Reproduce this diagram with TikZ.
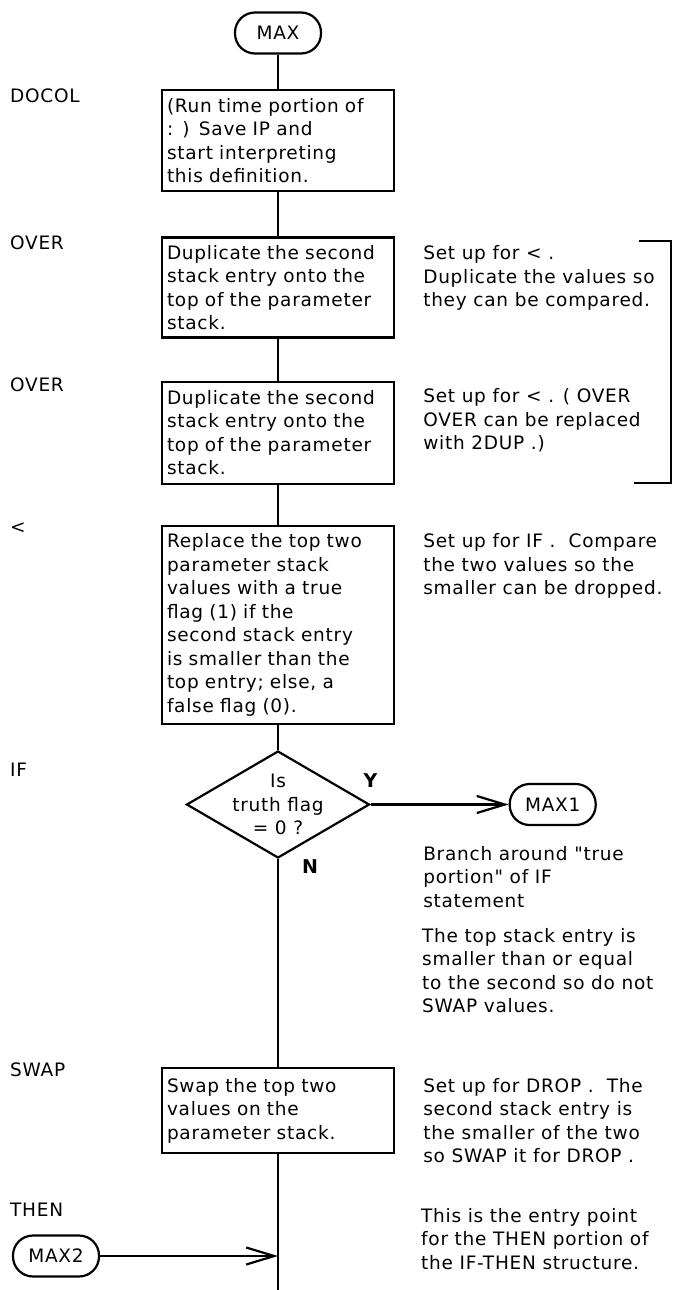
\documentclass[tikz,border=0pt]{standalone}
\usepackage{fontspec}
\setmainfont{DejaVu Sans}[LetterSpace=4, Ligatures=TeXOff]
\usepackage{tikz}
\usetikzlibrary{shapes.geometric,arrows.meta,positioning}

\begin{document}
\begin{tikzpicture}[
  x=1pt, y=-1pt,
  every node/.style={font=\fontsize{18.5}{23.5}\selectfont},
  term/.style={rectangle, draw, line width=2.2pt, rounded corners=20pt, minimum width=86pt, minimum height=41pt, inner sep=0pt},
  proc/.style={rectangle, draw, line width=2.2pt, text width=222pt, inner xsep=5pt, inner ysep=5pt, align=left},
  decision/.style={diamond, draw, line width=2.2pt, minimum width=183pt, minimum height=107pt, inner sep=0pt},
  note/.style={anchor=north west, inner sep=0pt, align=left},
  tag/.style={anchor=west, inner sep=0pt},
  yn/.style={inner sep=0pt, font=\fontsize{19}{23.5}\selectfont\bfseries},
  line/.style={line width=2.2pt},
  flow/.style={-{Straight Barb[length=28pt,width=17pt]}, line width=2.2pt}
]
\useasboundingbox (0,0) rectangle (678,1290);

\node[term] (max) at (278,33) {MAX};
\node[proc, below=34.5pt of max, minimum height=101pt] (docol) {(Run time portion of\\: ) Save IP and\\start interpreting\\this definition.};
\node[proc, below=44pt of docol, minimum height=100pt] (over1) {Duplicate the second\\stack entry onto the\\top of the parameter\\stack.};
\node[proc, below=42pt of over1, minimum height=102pt] (over2) {Duplicate the second\\stack entry onto the\\top of the parameter\\stack.};
\node[proc, below=40pt of over2, minimum height=198pt] (less) {Replace the top two\\parameter stack\\values with a true\\flag (1) if the\\second stack entry\\is smaller than the\\top entry; else, a\\false flag (0).};
\node[decision, below=25pt of less, label={[align=center]center:{Is\\truth flag\\= 0 ?}}] (test) {};
\node[term, right=138pt of test] (max1) {MAX1};
\node[proc, below=208pt of test, minimum height=85pt] (swap) {Swap the top two\\values on the\\parameter stack.};
\coordinate[below=145pt of swap] (lineend);
\node[term] (max2) at (56,1256) {MAX2};

\node[yn, above=17pt of test.east] (yes) {Y};
\node[yn, below right=0pt and 24pt of test.south] (no) {N};

\node[tag] (ldocol) at (10,96) {DOCOL};
\node[tag] (lover1) at (10,243) {OVER};
\node[tag] (lover2) at (10,385) {OVER};
\node[tag] (lless) at (10,528) {<};
\node[tag] (lif) at (10,770) {IF};
\node[tag] (lswap) at (10,1070) {SWAP};
\node[tag] (lthen) at (10,1210) {THEN};

\node[right=28pt of over1.north east, note, yshift=-9pt] (n1) {Set up for < .\\Duplicate the values so\\they can be compared.};
\node[right=28pt of over2.north east, note, yshift=-8pt] (n2) {Set up for < . ( OVER\\OVER can be replaced\\with 2DUP .)};
\node[right=28pt of less.north east, note, yshift=-9pt] (n3) {Set up for IF .~ Compare\\the two values so the\\smaller can be dropped.};
\node[note, yshift=-20pt] (n4) at (n3.west |- max1.south) {Branch around "true\\portion" of IF\\statement};
\node[note] (n5) at (422,928) {The top stack entry is\\smaller than or equal\\to the second so do not\\SWAP values.};
\node[right=28pt of swap.north east, note, yshift=-11pt] (n6) {Set up for DROP .~ The\\second stack entry is\\the smaller of the two\\so SWAP it for DROP .};
\node[note] (n7) at (421,1208) {This is the entry point\\for the THEN portion of\\the IF-THEN structure.};

\coordinate (brtop) at (671,241);
\coordinate (brbot) at (671,483);

\draw[line] (max) -- (docol);
\draw[line] (docol) -- (over1);
\draw[line] (over1) -- (over2);
\draw[line] (over2) -- (less);
\draw[line] (less) -- (test);
\draw[line] (test) -- (swap);
\draw[line] (swap) -- (lineend);
\draw[flow] (test) -- (max1);
\draw[flow] (max2) -- (max2 -| lineend);
\draw[line] ([xshift=-32pt]brtop) -- (brtop) -- (brbot) -- ([xshift=-37pt]brbot);

\end{tikzpicture}
\end{document}
